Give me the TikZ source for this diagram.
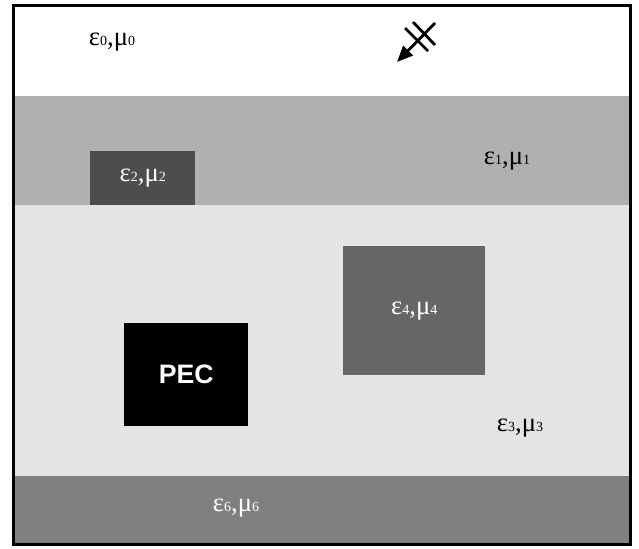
\documentclass[tikz,border=0pt]{standalone}
\usepackage{fontspec}
\setmainfont{Liberation Serif}
\setsansfont{Liberation Sans}
\usetikzlibrary{arrows.meta}
\definecolor{layerA}{RGB}{176,176,176}
\definecolor{layerB}{RGB}{228,228,228}
\definecolor{layerC}{RGB}{128,128,128}
\definecolor{boxA}{RGB}{77,77,77}
\definecolor{boxB}{RGB}{102,102,102}
\newcommand{\medium}[1]{ε{\fontsize{10.5}{12}\selectfont #1},μ{\fontsize{10.5}{12}\selectfont #1}}
\begin{document}
\begin{tikzpicture}[x=0.75pt,y=0.75pt,yscale=-1,
  lbl/.style={font=\fontsize{20}{24}\selectfont, inner sep=0.75pt},
  blk/.style={draw=none, inner sep=0pt, anchor=north west},
  wave/.style={line width=2.1pt}]
\useasboundingbox (0,0) rectangle (639,549);

%Shape: Rectangle [layers]
\fill [white] (13,5) rectangle (631,96) ;
\fill [layerA] (13,96) rectangle (631,205) ;
\fill [layerB] (13,205) rectangle (631,476) ;
\fill [layerC] (13,476) rectangle (631,545) ;

%Shape: Rectangle [blocks]
\node [blk, fill=boxA, minimum width=105*0.75pt, minimum height=54*0.75pt] (eps2) at (90,151) {};
\node [blk, fill=boxB, minimum width=142*0.75pt, minimum height=129*0.75pt] (eps4) at (343,246) {};
\node [blk, fill=black, minimum width=124*0.75pt, minimum height=103*0.75pt] (pec) at (124,323) {};

% Text Node
\node [lbl] (lab0) at (112,42) {\medium{0}};
\node [lbl] (lab1) at (507,161) {\medium{1}};
\node [lbl, text=white] (lab2) at (eps2.center) {\medium{2}};
\node [lbl] (lab3) at (520,428) {\medium{3}};
\node [lbl, text=white] (lab4) at (eps4.center) {\medium{4}};
\node [lbl, text=white] (lab6) at (236,508) {\medium{6}};
\node [font=\sffamily\bfseries\fontsize{20}{24}\selectfont, text=white] (labpec) at (pec.center) {PEC};

%Straight Lines [incident wave]
\coordinate (w0) at (435,23);
\coordinate (w1) at (397,62);
\coordinate (c1a) at (405,28);
\coordinate (c1b) at (428,51);
\coordinate (c2a) at (413,22);
\coordinate (c2b) at (435,45);
\draw [wave, -{Triangle[length=12pt,width=10pt]}] (w0) -- (w1) ;
\draw [wave] (c1a) -- (c1b) ;
\draw [wave] (c2a) -- (c2b) ;

%Shape: Rectangle [frame]
\draw [line width=2.4pt] (13.5,5.5) rectangle (630.5,544.5) ;

\end{tikzpicture}
\end{document}
